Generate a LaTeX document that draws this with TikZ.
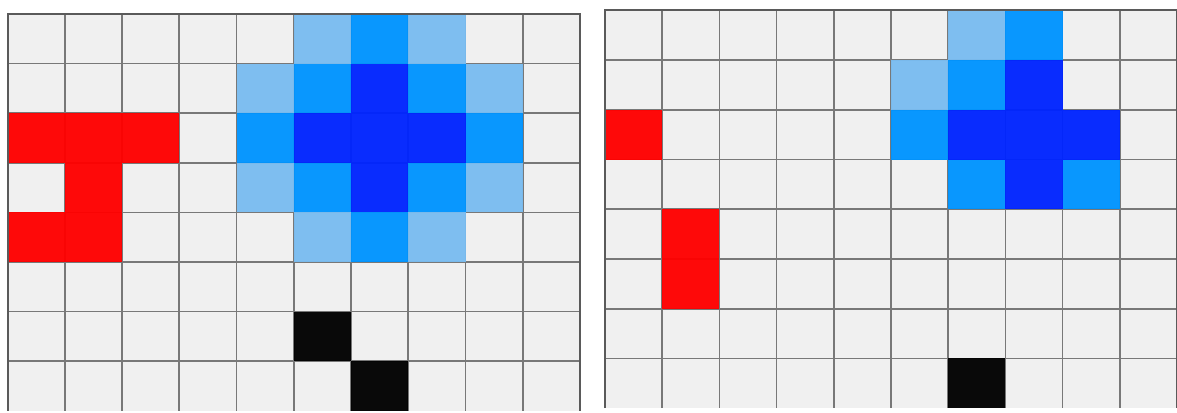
\documentclass[tikz,border=0pt]{standalone}
\definecolor{cellbg}{RGB}{240,240,240}
\definecolor{lblue}{RGB}{122,188,240}
\definecolor{mblue}{RGB}{0,148,255}
\definecolor{dblue}{RGB}{0,36,255}
\definecolor{cred}{RGB}{255,0,0}
\definecolor{gridc}{RGB}{120,120,120}
\definecolor{bordc}{RGB}{90,90,90}
\tikzset{
  gridline/.style={draw=gridc, line width=1.7pt},
  border/.style={draw=bordc, line width=2pt},
  cellfill/.style={fill=#1, fill opacity=0.96},
}
\begin{document}
\begin{tikzpicture}[x=1pt,y=-1pt]
\useasboundingbox (0,0) rectangle (1177,412);
\fill[white] (0,0) rectangle (1177,412);
% ---------- left grid ----------
\def\lx{7.5}\def\ly{14}\def\lw{57.25}\def\lh{49.6}
\fill[cellbg] (\lx,\ly) rectangle ({\lx+10*\lw},{\ly+8*\lh});
\foreach \i in {1,...,9}
  \draw[gridline] ({\lx+\i*\lw},\ly) -- ({\lx+\i*\lw},{\ly+8*\lh});
\foreach \j in {1,...,7}
  \draw[gridline] (\lx,{\ly+\j*\lh}) -- ({\lx+10*\lw},{\ly+\j*\lh});
\foreach \c/\r/\col in {5/0/lblue,6/0/mblue,7/0/lblue,
  4/1/lblue,5/1/mblue,6/1/dblue,7/1/mblue,8/1/lblue,
  0/2/cred,1/2/cred,2/2/cred,4/2/mblue,5/2/dblue,6/2/dblue,7/2/dblue,8/2/mblue,
  1/3/cred,4/3/lblue,5/3/mblue,6/3/dblue,7/3/mblue,8/3/lblue,
  0/4/cred,1/4/cred,5/4/lblue,6/4/mblue,7/4/lblue,
  5/6/black,6/7/black}
  \fill[cellfill=\col] ({\lx+\c*\lw},{\ly+\r*\lh}) rectangle ({\lx+(\c+1)*\lw},{\ly+(\r+1)*\lh});
\draw[border] (\lx,{\ly+8*\lh}) -- (\lx,\ly) -- ({\lx+10*\lw},\ly) -- ({\lx+10*\lw},{\ly+8*\lh});
% ---------- right grid ----------
\def\rx{605}\def\ry{10.5}\def\rw{57.2}\def\rh{49.7}
\fill[cellbg] (\rx,\ry) rectangle ({\rx+10*\rw},{\ry+8*\rh});
\foreach \i in {1,...,9}
  \draw[gridline] ({\rx+\i*\rw},\ry) -- ({\rx+\i*\rw},{\ry+8*\rh});
\foreach \j in {1,...,7}
  \draw[gridline] (\rx,{\ry+\j*\rh}) -- ({\rx+10*\rw},{\ry+\j*\rh});
\foreach \c/\r/\col in {6/0/lblue,7/0/mblue,
  5/1/lblue,6/1/mblue,7/1/dblue,
  0/2/cred,5/2/mblue,6/2/dblue,7/2/dblue,8/2/dblue,
  6/3/mblue,7/3/dblue,8/3/mblue,
  1/4/cred,1/5/cred,6/7/black}
  \fill[cellfill=\col] ({\rx+\c*\rw},{\ry+\r*\rh}) rectangle ({\rx+(\c+1)*\rw},{\ry+(\r+1)*\rh});
\draw[border] (\rx,{\ry+8*\rh}) -- (\rx,\ry) -- ({\rx+10*\rw},\ry) -- ({\rx+10*\rw},{\ry+8*\rh});
\end{tikzpicture}
\end{document}
